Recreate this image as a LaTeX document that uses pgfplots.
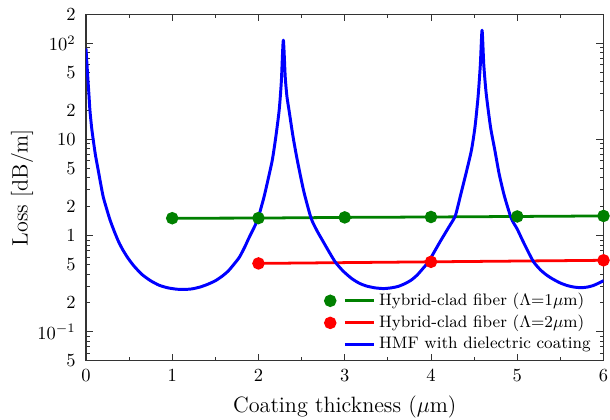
\documentclass[border=0pt]{standalone}
\usepackage{pgfplots}
\pgfplotsset{compat=1.18}
\definecolor{ggreen}{RGB}{0,128,0}
\pgfplotsset{
  markleg/.style={legend image code/.code={\path[draw=none,fill=none] (-0.1cm,-0.1cm) rectangle (0.85cm,0.1cm); \draw[##1,mark=none,line width=1.6pt] (0.3cm,0cm) -- (0.85cm,0cm); \draw[##1] plot coordinates {(0.02cm,0cm)};}},
  lineleg/.style={legend image code/.code={\path[draw=none,fill=none] (-0.1cm,-0.1cm) rectangle (0.85cm,0.1cm); \draw[##1,line width=1.6pt] (0.3cm,0cm) -- (0.85cm,0cm);}},
}
\begin{document}
\begin{tikzpicture}
\path[use as bounding box] (-46.5pt,-31.9pt) rectangle (283.5pt,195.2pt);
\begin{semilogyaxis}[
  at={(0pt,0pt)}, anchor=south west,
  scale only axis, width=280pt, height=187.4pt,
  xmin=0, xmax=6, ymin=0.05, ymax=200,
  xtick={0,1,2,3,4,5,6}, minor x tick num=1,
  ytick={0.1,1,10,100}, yticklabels={$10^{-1}$,$1$,$10$,$10^{2}$},
  minor ytick={0.05,0.06,0.07,0.08,0.09,0.2,0.3,0.4,0.5,0.6,0.7,0.8,0.9,2,3,4,5,6,7,8,9,20,30,40,50,60,70,80,90,200},
  extra y ticks={0.05,0.2,0.5,2,5,20,50,200},
  extra y tick labels={$5$,$2$,$5$,$2$,$5$,$2$,$5$,$2$},
  extra y tick style={major tick length=0pt},
  tick align=inside,
  major tick length=3.8pt, minor tick length=2pt,
  tick style={black!80, line width=0.5pt},
  axis line style={black!80, line width=0.6pt},
  xticklabel style={yshift=-1pt},
  yticklabel style={xshift=-2pt},
  xlabel={Coating thickness ($\mu$m)},
  ylabel={Loss [dB/m]},
  label style={font=\large},
  xlabel style={at={(axis description cs:0.5,-0.133)}, anchor=center},
  ylabel style={at={(axis description cs:-0.1236,0.5)}, anchor=center},
  legend style={at={(0.994,0.004)}, anchor=south east, draw=none, fill=none, font=\small, cells={anchor=west}, row sep=-0.3pt},
]
\addplot[ggreen, line width=1.5pt, mark=*, mark size=2.6pt, mark options={solid}, markleg]
  coordinates {(1,1.52) (2,1.525) (3,1.55) (4,1.565) (5,1.585) (6,1.605)};
\addlegendentry{Hybrid-clad fiber ($\Lambda$=1$\mu$m)}
\addplot[red, line width=1.5pt, mark=*, mark size=2.6pt, mark options={solid}, markleg]
  coordinates {(2,0.515) (4,0.535) (6,0.555)};
\addlegendentry{Hybrid-clad fiber ($\Lambda$=2$\mu$m)}
\addplot[blue, line width=1.6pt, line join=round, smooth, tension=0.4, lineleg]
  coordinates {
  (0,88.7) (0.012,60) (0.023,42) (0.035,29) (0.046,20.2) (0.065,13.5) (0.085,9.86)
  (0.11,6.9) (0.142,4.81) (0.17,3.5) (0.2,2.54) (0.24,1.9) (0.28,1.45) (0.33,1.1)
  (0.38,0.86) (0.43,0.706) (0.49,0.58) (0.56,0.48) (0.65,0.395) (0.75,0.34)
  (0.85,0.305) (0.95,0.287) (1.05,0.278) (1.14,0.276) (1.23,0.28) (1.32,0.292)
  (1.41,0.312) (1.50,0.34) (1.58,0.38) (1.65,0.43) (1.72,0.51) (1.78,0.6)
  (1.84,0.76) (1.89,0.95) (1.95,1.22) (1.996,1.51) (2.03,1.95) (2.065,2.54)
  (2.11,3.8) (2.16,6.1) (2.20,10.5) (2.24,20.2) (2.265,40) (2.288,108) (2.31,45)
  (2.33,28) (2.354,20.2) (2.40,10.8) (2.45,6.1) (2.525,2.9) (2.61,1.52) (2.68,1.12)
  (2.74,0.90) (2.81,0.70) (2.89,0.533) (2.98,0.43) (3.08,0.359) (3.17,0.32)
  (3.25,0.30) (3.35,0.287) (3.45,0.282) (3.54,0.287) (3.62,0.297) (3.70,0.318)
  (3.77,0.345) (3.84,0.39) (3.91,0.46) (3.97,0.533) (4.03,0.66) (4.11,0.88)
  (4.20,1.2) (4.277,1.57) (4.31,2.0) (4.35,2.8) (4.41,4.6) (4.469,7.76) (4.51,13.5)
  (4.546,28) (4.572,60) (4.592,137) (4.612,60) (4.64,30) (4.69,13.5) (4.74,7.76)
  (4.79,4.4) (4.85,2.6) (4.93,1.52) (5.00,1.17) (5.06,0.90) (5.12,0.70) (5.19,0.533)
  (5.27,0.44) (5.34,0.39) (5.41,0.355) (5.50,0.322) (5.58,0.303) (5.66,0.292)
  (5.74,0.288) (5.81,0.292) (5.88,0.303) (5.94,0.32) (6.0,0.34)
  };
\addlegendentry{HMF with dielectric coating}
\end{semilogyaxis}
\end{tikzpicture}
\end{document}
